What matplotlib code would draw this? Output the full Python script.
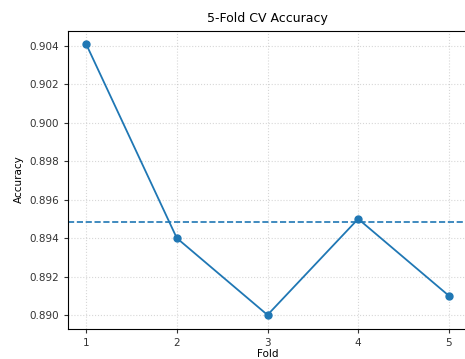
import numpy as np
import matplotlib
matplotlib.use('Agg')
from matplotlib import pyplot as plt

# Data
folds = [1, 2, 3, 4, 5]
accuracy = [0.9041, 0.8940, 0.8900, 0.8950, 0.8910]
mean_acc = np.mean(accuracy)

fig = plt.figure(figsize=(4.65, 3.59), dpi=100)
ax = fig.add_axes([68/465, 1 - 328.5/359, 399/465, 298/359])

ax.plot(folds, accuracy, 'o-', color='C0', markersize=5, linewidth=1.3)
ax.axhline(mean_acc, color='C0', linestyle='--', linewidth=1.2)

ax.set_xticks(folds)
ax.set_yticks(np.arange(0.890, 0.9041, 0.002))
ax.yaxis.set_major_formatter(matplotlib.ticker.FormatStrFormatter('%.3f'))
ax.tick_params(labelsize=7.5, length=3, colors='#333333')
ax.set_title('5-Fold CV Accuracy', fontsize=9)
ax.set_xlabel('Fold', fontsize=7.5, labelpad=1)
ax.set_ylabel('Accuracy', fontsize=7.5)
ax.grid(True, linestyle=':', alpha=0.5)

fig.savefig('out.png', dpi=100)
